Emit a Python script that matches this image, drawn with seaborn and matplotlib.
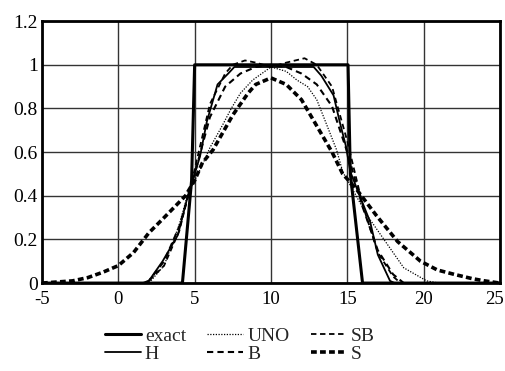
import matplotlib
matplotlib.use("Agg")
import matplotlib.pyplot as plt
import matplotlib.transforms as mtransforms
import seaborn as sns

# profiles, x in [-5, 25]
exact_x = [-5, 4.2, 4.8, 5.0, 15.05, 15.2, 16.0, 25]
exact_y = [0, 0, 0.47, 1.0, 1.0, 0.5, 0, 0]

h_x = [-5, 1.7, 2.0, 2.9, 3.9, 4.5, 5.35, 5.8, 6.5, 7.2, 7.6, 12.8, 13.3, 14.1, 14.5, 14.9, 15.2, 15.7, 16.5, 17.0, 17.8, 18.1, 25]
h_y = [0, 0, 0.01, 0.10, 0.22, 0.385, 0.58, 0.74, 0.91, 0.96, 0.99, 0.99, 0.95, 0.86, 0.74, 0.63, 0.51, 0.42, 0.28, 0.13, 0.01, 0, 0]

uno_x = [-5, 2.0, 3.0, 4.0, 4.6, 5.0, 5.5, 6.0, 6.8, 7.4, 8.0, 8.8, 10.0, 11.0, 11.7, 12.4, 13.0, 13.4, 14.3, 14.7, 15.5, 16.3, 17.6, 18.7, 20.2, 21.0, 25]
uno_y = [0, 0, 0.08, 0.27, 0.42, 0.47, 0.54, 0.62, 0.72, 0.8, 0.87, 0.93, 0.99, 0.97, 0.93, 0.9, 0.84, 0.77, 0.61, 0.51, 0.41, 0.31, 0.18, 0.07, 0.01, 0, 0]

b_x = [-5, 1.6, 2.0, 3.0, 4.0, 5.0, 6.0, 7.0, 8.0, 9.0, 10.0, 11.0, 12.0, 13.0, 14.0, 15.0, 16.0, 17.0, 18.0, 18.7, 25]
b_y = [0, 0, 0.01, 0.1, 0.26, 0.5, 0.76, 0.9, 0.96, 0.99, 1.0, 0.99, 0.96, 0.91, 0.81, 0.6, 0.35, 0.15, 0.04, 0, 0]

sb_x = [-5, 1.6, 2.0, 3.0, 4.0, 5.0, 6.0, 7.0, 7.5, 8.3, 9.0, 10.0, 11.0, 12.2, 13.0, 14.0, 15.0, 16.0, 17.0, 18.0, 18.5, 25]
sb_y = [0, 0, 0.01, 0.08, 0.24, 0.52, 0.82, 0.96, 1.0, 1.02, 1.01, 0.99, 1.01, 1.03, 1.0, 0.9, 0.65, 0.36, 0.14, 0.03, 0, 0]

s_x = [-5, -4, -3, -2, -1, 0, 1, 2, 3, 4.4, 5.0, 5.5, 6.2, 7.5, 8.5, 9.0, 10.0, 11.0, 12.0, 13.0, 14.0, 14.7, 15.6, 16.9, 18.3, 19.8, 20.9, 22.0, 23.2, 24.0, 25]
s_y = [0, 0.005, 0.01, 0.025, 0.05, 0.08, 0.14, 0.23, 0.3, 0.4, 0.47, 0.55, 0.61, 0.77, 0.87, 0.91, 0.94, 0.91, 0.84, 0.72, 0.6, 0.5, 0.43, 0.31, 0.19, 0.1, 0.06, 0.04, 0.02, 0.01, 0]

x_ticks = [-5, 0, 5, 10, 15, 20, 25]
y_ticks = [0, 0.2, 0.4, 0.6, 0.8, 1.0, 1.2]

sns.set_theme(style="white")
plt.rcParams["font.family"] = ["Liberation Serif", "DejaVu Serif"]
plt.rcParams["axes.unicode_minus"] = False

fig = plt.figure(figsize=(5.06, 3.71), dpi=100)
ax = fig.add_axes([0.083, 0.237, 0.905, 0.706])

sns.lineplot(x=exact_x, y=exact_y, ax=ax, color="black", lw=2.2, linestyle="-", label="exact")
sns.lineplot(x=h_x, y=h_y, ax=ax, color="black", lw=1.3, linestyle="-", label="H")
sns.lineplot(x=uno_x, y=uno_y, ax=ax, color="black", lw=0.9, linestyle=(0, (1, 1.2)), label="UNO")
sns.lineplot(x=b_x, y=b_y, ax=ax, color="black", lw=1.5, linestyle=(0, (3, 2)), label="B")
sns.lineplot(x=sb_x, y=sb_y, ax=ax, color="black", lw=1.3, linestyle=(0, (3, 2)), label="SB")
sns.lineplot(x=s_x, y=s_y, ax=ax, color="black", lw=2.6, linestyle=(0, (1.6, 0.9)), label="S")

ax.set_xlim(-5, 25)
ax.set_ylim(0, 1.2)
ax.set_xticks(x_ticks)
ax.set_yticks(y_ticks)
ax.set_xticklabels([str(t) for t in x_ticks])
ax.set_yticklabels(["%g" % t for t in y_ticks])
ax.grid(True, color="#333333", lw=1.0)
ax.set_axisbelow(True)
for sp in ax.spines.values():
    sp.set_color("black")
    sp.set_linewidth(2)
ax.tick_params(axis="both", direction="in", length=10, width=2, color="black",
               labelsize=14, labelcolor="black")
ax.tick_params(axis="y", pad=3)
ax.tick_params(axis="x", pad=5.5, labelsize=13.5)

# nudge the last x label so it stays inside the figure
last = ax.get_xticklabels()[-1]
last.set_transform(last.get_transform() + mtransforms.ScaledTranslation(-4 / 72, 0, fig.dpi_scale_trans))

handles, labels = ax.get_legend_handles_labels()
ax.get_legend().remove()
fig.legend(handles, labels, loc="upper center", bbox_to_anchor=(0.474, 0.155), ncol=3,
           frameon=False, fontsize=14, handlelength=1.85, handletextpad=0.2,
           columnspacing=1.1, labelspacing=0.05, borderpad=0.2)

fig.savefig("out.png", dpi=100)
